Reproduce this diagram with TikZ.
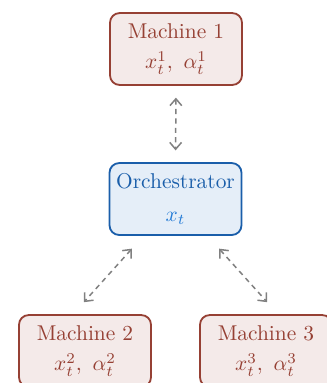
\documentclass[tikz,border=0pt]{standalone}
\usepackage{tikz}
\usetikzlibrary{positioning,arrows.meta,calc}
\definecolor{mred}{RGB}{150,64,52}
\definecolor{mredfill}{RGB}{244,234,233}
\definecolor{oblue}{RGB}{26,94,170}
\definecolor{olight}{RGB}{38,124,214}
\definecolor{obluefill}{RGB}{229,238,248}
\definecolor{linkgray}{RGB}{128,128,128}

\begin{document}
\begin{tikzpicture}[
    machine/.style={draw=mred, fill=mredfill, text=mred, line width=0.85pt, rounded corners=4.5pt,
        minimum width=2.166cm, minimum height=1.18cm, align=center, inner sep=2pt},
    orch/.style={machine, draw=oblue, fill=obluefill, text=oblue},
    link/.style={linkgray, line width=0.7pt, dash pattern=on 2.4pt off 2pt,
        {Straight Barb[length=3.2pt,width=5.5pt]}-{Straight Barb[length=3.2pt,width=5.5pt]}}
]
\useasboundingbox (0,0) rectangle (5.35,-6.285);

% Nodes
\node[orch] (orchestrator) at (2.880,-3.266) {Orchestrator\\[3pt] \textcolor{olight}{$x_t$}};
\node[machine] (m1) at (2.888,-0.804) {Machine 1\\[2pt] $x_t^1,\ \alpha_t^1$};
\node[machine] (m2) at (1.395,-5.760) {Machine 2\\[2pt] $x_t^2,\ \alpha_t^2$};
\node[machine] (m3) at (4.365,-5.760) {Machine 3\\[2pt] $x_t^3,\ \alpha_t^3$};

% Links
\draw[link, shorten <=5.5pt, shorten >=5.5pt] (m1.south) -- (orchestrator.north);
\draw[link, shorten <=8pt, shorten >=7.5pt] (orchestrator.229) -- (m2.108);
\draw[link, shorten <=8pt, shorten >=7.5pt] (orchestrator.311) -- (m3.72);
\end{tikzpicture}
\end{document}
